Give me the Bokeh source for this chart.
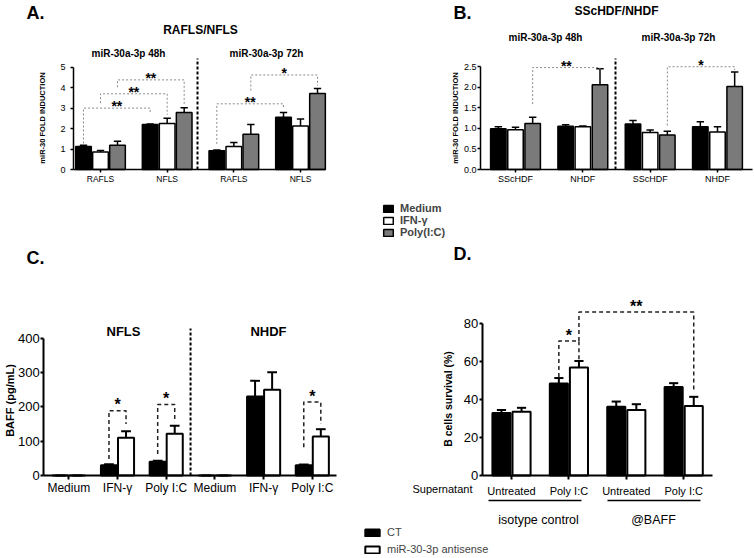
import math
from bokeh.plotting import figure
from bokeh.layouts import row, column
from bokeh.models import (Range1d, Label, FixedTicker, Legend, LegendItem,
                          PrintfTickFormatter)
from bokeh.core.properties import value
from bokeh.embed import file_html
from bokeh.resources import INLINE

FONT = "Liberation Sans"

# ---------------- data ----------------
# Panel A: RAFLS/NFLS, miR-30a-3p fold induction (48h, 72h)
a_groups = ["RAFLS", "NFLS", "RAFLS", "NFLS"]
a_medium = [1.13, 2.20, 0.92, 2.55]
a_medium_err = [1.18, 2.22, 0.95, 2.78]
a_ifn = [0.85, 2.25, 1.13, 2.12]
a_ifn_err = [0.93, 2.50, 1.32, 2.47]
a_poly = [1.18, 2.78, 1.72, 3.72]
a_poly_err = [1.38, 3.02, 2.20, 3.96]
# significance brackets: (group, series) ends, level, leg ends, text
a_br_left = [(1, 0), (1, 1), (1, 2), (3, 0), (3, 2)]
a_br_right = [(2, 0), (2, 1), (2, 2), (4, 0), (4, 2)]
a_br_level = [3.00, 3.70, 4.38, 3.21, 4.62]
a_br_left_end = [1.27, 3.24, 4.02, 1.25, 3.86]
a_br_right_end = [2.72, 2.67, 3.21, 3.04, 4.10]
a_br_text = ["**", "**", "**", "**", "*"]

# Panel B: SScHDF/NHDF
b_groups = ["SScHDF", "NHDF", "SScHDF", "NHDF"]
b_medium = [0.99, 1.05, 1.11, 1.04]
b_medium_err = [1.04, 1.09, 1.19, 1.16]
b_ifn = [0.97, 1.04, 0.90, 0.91]
b_ifn_err = [1.03, 1.06, 0.96, 1.04]
b_poly = [1.12, 2.06, 0.84, 2.02]
b_poly_err = [1.27, 2.45, 0.93, 2.37]
b_br_left = [(1, 2), (3, 2)]
b_br_right = [(2, 2), (4, 2)]
b_br_level = [2.48, 2.50]
b_br_left_end = [1.59, 1.07]
b_br_right_end = [2.42, 2.42]
b_br_text = ["**", "*"]

series_names = ["Medium", "IFN-\u03b3", "Poly(I:C)"]

# Panel C: BAFF (pg/mL)
c_cats = ["Medium", "IFN-\u03b3", "Poly I:C", "Medium", "IFN-\u03b3", "Poly I:C"]
c_ct = [0, 30, 40, 0, 230, 30]
c_ct_err = [0, 33, 43, 0, 276, 32]
c_anti = [0, 110, 122, 0, 250, 114]
c_anti_err = [0, 129, 145, 0, 301, 135]
c_cell_titles = ["NFLS", "NHDF"]
c_br_cat = [2, 3, 6]
c_br_level = [189, 207, 214]
c_br_left_end = [48, 63, 82]
c_br_right_end = [150, 165, 150]
c_br_text = ["*", "*", "*"]

# Panel D: B cells survival (%)
d_cats = ["Untreated", "Poly I:C", "Untreated", "Poly I:C"]
d_ct = [33.0, 48.5, 36.2, 46.7]
d_ct_err = [34.6, 51.4, 39.0, 48.7]
d_anti = [33.6, 57.0, 34.5, 36.7]
d_anti_err = [35.7, 60.4, 37.6, 41.5]
d_group_names = ["isotype control", "@BAFF"]
d_br_left = [(2, 0), (2, 1)]
d_br_right = [(2, 1), (4, 1)]
d_br_level = [70.9, 86.2]
d_br_left_end = [52.0, 71.0]
d_br_right_end = [60.5, 44.8]
d_br_text = ["*", "**"]

legend2_names = ["CT", "miR-30-3p antisense"]

BLACK = "#000000"
GRAY = "#7a7a7a"
WHITE = "#ffffff"


# ---------------- helpers ----------------
class Panel:
    """A figure whose frame fills the whole canvas; axes are fixed inside it.
    Page pixel x1_px is category 1, ux px per category, uy px per y unit,
    and y=0 sits at page pixel fb."""
    def __init__(self, fig_x, fig_y, fig_w, fig_h, fl, fr, fb, x1_px, ux, uy):
        self.x1_px, self.ux, self.uy, self.fb = x1_px, ux, uy, fb
        self.fl, self.fr = fl, fr
        p = figure(width=fig_w, height=fig_h,
                   x_range=Range1d(self.x(fig_x), self.x(fig_x + fig_w)),
                   y_range=Range1d(self.y(fig_y + fig_h), self.y(fig_y)),
                   min_border_left=0, min_border_right=0,
                   min_border_top=0, min_border_bottom=0,
                   output_backend="svg", toolbar_location=None, tools="")
        p.title.visible = False
        p.outline_line_color = None
        p.grid.visible = False
        p.background_fill_color = "white"
        p.border_fill_color = "white"
        p.xaxis.fixed_location = 0
        p.yaxis.fixed_location = self.x(fl)
        self.p = p

    def x(self, px):
        return 1 + (px - self.x1_px) / self.ux

    def y(self, py):
        return (self.fb - py) / self.uy

    def label(self, px, py, text, size, bold=False, align="left", baseline="middle",
              angle=0.0):
        self.p.add_layout(Label(x=self.x(px), y=self.y(py), text=text,
                                text_font=FONT, text_font_size=size,
                                text_font_style="bold" if bold else "normal",
                                text_align=align, text_baseline=baseline,
                                text_color="black", angle=angle))


def style_axes(pan, yticks, ybounds, yfmt, ytick_size, ytick_out, ystandoff,
               xlabels, xlab_size, xtick_out, xstandoff, lw):
    p = pan.p
    xa, ya = p.xaxis[0], p.yaxis[0]
    ya.ticker = FixedTicker(ticks=yticks)
    if yfmt:
        ya.formatter = PrintfTickFormatter(format=yfmt)
    ya.bounds = ybounds
    ya.major_label_text_font = FONT
    ya.major_label_text_font_size = ytick_size
    ya.major_tick_out = ytick_out
    ya.major_tick_in = 0
    ya.major_label_standoff = ystandoff
    xa.ticker = FixedTicker(ticks=list(range(1, len(xlabels) + 1)))
    xa.major_label_overrides = {i + 1: t for i, t in enumerate(xlabels)}
    xa.bounds = (pan.x(pan.fl), pan.x(pan.fr))
    xa.major_label_text_font = FONT
    xa.major_label_text_font_size = xlab_size
    xa.major_tick_out = xtick_out
    xa.major_tick_in = 0
    xa.major_label_standoff = xstandoff
    for ax in (xa, ya):
        ax.minor_tick_line_color = None
        ax.axis_line_width = lw
        ax.major_tick_line_width = lw
        ax.axis_line_color = "black"
        ax.major_tick_line_color = "black"
        ax.major_label_text_color = "black"


def bars(pan, offsets, series, colors, width, lw, cap):
    p = pan.p
    rends = []
    for off, (vals, errs), col in zip(offsets, series, colors):
        xs = [i + 1 + off for i in range(len(vals))]
        r = p.vbar(x=xs, top=vals, bottom=0, width=width, fill_color=col,
                   line_color="black", line_width=lw)
        rends.append(r)
        p.segment(x0=xs, y0=vals, x1=xs, y1=errs, line_color="black", line_width=lw)
        p.segment(x0=[x - cap for x in xs], y0=errs, x1=[x + cap for x in xs], y1=errs,
                  line_color="black", line_width=lw)
    return rends


def brackets(pan, offsets, lefts, rights, levels, lends, rends_, texts, color, dash,
             lw, star_size, star_dy):
    xs, ys, tx, ty = [], [], [], []
    for (gl, sl), (gr, sr), lev, le, re_ in zip(lefts, rights, levels, lends, rends_):
        x0 = gl + offsets[sl]
        x1 = gr + offsets[sr]
        xs.append([x0, x0, x1, x1])
        ys.append([le, lev, lev, re_])
        tx.append((x0 + x1) / 2)
        ty.append(lev)
    pan.p.multi_line(xs=xs, ys=ys, line_color=color, line_dash=dash, line_width=lw)
    pan.p.text(x=tx, y=ty, text=texts, text_font=value(FONT), text_font_size=star_size,
               text_font_style="bold", text_align="center", text_baseline="alphabetic",
               y_offset=star_dy, text_color="black")


VERT = math.pi / 2
TOP_H = 240

# ---------------- Panel A ----------------
A = Panel(0, 0, 380, TOP_H, 73, 325, 169, 100, 66.67, 20.46)
offs3 = [-0.255, 0.0, 0.255]
bars(A, offs3, [(a_medium, a_medium_err), (a_ifn, a_ifn_err), (a_poly, a_poly_err)],
     [BLACK, WHITE, GRAY], 0.235, 1.5, 0.055)
brackets(A, offs3, a_br_left, a_br_right, a_br_level,
         a_br_left_end, a_br_right_end, a_br_text, "#8a8a8a", "2 2", 1, "14px", -2)
A.p.segment(x0=[A.x(197)], y0=[0], x1=[A.x(197)], y1=[A.y(58)], line_color="black",
            line_width=2, line_dash="3 2")
style_axes(A, [0, 1, 2, 3, 4, 5], (0, 5), None, "9px", 3, 5, a_groups, "8.5px", 3, 1, 1.5)
A.label(42, 117.5, "miR-30 FOLD INDUCTION", "7.5px", bold=True, align="center", angle=VERT)
A.label(26, 12.5, "A.", "18px", bold=True)
A.label(200, 29, "RAFLS/NFLS", "12px", bold=True, align="center")
A.label(128, 53, "miR-30a-3p 48h", "10px", bold=True, align="center")
A.label(266, 53, "miR-30a-3p 72h", "10px", bold=True, align="center")

# ---------------- Panel B ----------------
B = Panel(380, 0, 374, TOP_H, 480, 752, 169, 515, 67.33, 41.1)
rB = bars(B, offs3, [(b_medium, b_medium_err), (b_ifn, b_ifn_err), (b_poly, b_poly_err)],
          [BLACK, WHITE, GRAY], 0.23, 1.5, 0.055)
brackets(B, offs3, b_br_left, b_br_right, b_br_level, b_br_left_end, b_br_right_end,
         b_br_text, "#8a8a8a", "2 2", 1, "14px", -2)
B.p.segment(x0=[B.x(615)], y0=[0], x1=[B.x(615)], y1=[B.y(58)], line_color="black",
            line_width=2, line_dash="3 2")
style_axes(B, [0, 0.5, 1.0, 1.5, 2.0, 2.5], (0, 2.5), "%.1f", "9px", 3, 1,
           b_groups, "9px", 3, 1, 1.5)
B.label(455, 117.5, "miR-30 FOLD INDUCTION", "7.5px", bold=True, align="center", angle=VERT)
B.label(453, 12, "B.", "18px", bold=True)
B.label(616, 10, "SScHDF/NHDF", "12px", bold=True, align="center")
B.label(545, 37, "miR-30a-3p 48h", "10px", bold=True, align="center")
B.label(678, 37, "miR-30a-3p 72h", "10px", bold=True, align="center")
legA = Legend(items=[LegendItem(label=n, renderers=[r]) for n, r in zip(series_names, rB)],
              location=(2, 2), orientation="vertical", padding=0, margin=0, spacing=0,
              glyph_width=12, glyph_height=9, label_height=12, label_standoff=6,
              label_text_font=FONT, label_text_font_size="11px",
              label_text_font_style="bold", border_line_alpha=0,
              background_fill_alpha=0)
B.p.add_layout(legA)

# ---------------- Panel C ----------------
C = Panel(0, TOP_H, 356, 558 - TOP_H, 43.3, 336, 475, 68.3, 48.7, 0.343)
offs2c = [-0.175, 0.175]
bars(C, offs2c, [(c_ct, c_ct_err), (c_anti, c_anti_err)], [BLACK, WHITE], 0.33, 2, 0.1)
brackets(C, offs2c, [(g, 0) for g in c_br_cat], [(g, 1) for g in c_br_cat], c_br_level,
         c_br_left_end, c_br_right_end, c_br_text, "#222222", "4 3", 1.5, "16px", -6)
C.p.segment(x0=[3.5], y0=[0], x1=[3.5], y1=[C.y(328)], line_color="black",
            line_width=2, line_dash="3 2")
style_axes(C, [0, 100, 200, 300, 400], (0, 400), None, "13px", 3, 1,
           c_cats, "12px", 4, 1, 2)
C.label(9, 400, "BAFF (pg/mL)", "11px", bold=True, align="center", angle=VERT)
C.label(26, 257, "C.", "18px", bold=True)
C.label(123, 331, c_cell_titles[0], "13px", bold=True, align="center")
C.label(268, 331, c_cell_titles[1], "13px", bold=True, align="center")

# ---------------- Panel D ----------------
D = Panel(356, TOP_H, 398, 558 - TOP_H, 481.7, 712, 475, 511, 57.4, 1.896)
offs2d = [-0.175, 0.175]
rD = bars(D, offs2d, [(d_ct, d_ct_err), (d_anti, d_anti_err)], [BLACK, WHITE], 0.315, 2, 0.08)
brackets(D, offs2d, d_br_left, d_br_right, d_br_level, d_br_left_end, d_br_right_end,
         d_br_text, "#222222", "4 3", 1.5, "16px", -6)
style_axes(D, [0, 20, 40, 60, 80], (0, 80), None, "13px", 3, 1, d_cats, "11px", 4, 5, 2)
D.label(447, 398.5, "B cells survival (%)", "10.5px", bold=True, align="center", angle=VERT)
D.label(453, 253, "D.", "18px", bold=True)
D.label(412, 488, "Supernatant", "11px")
D.label(538, 519, d_group_names[0], "12.5px", align="center")
D.label(653, 519, d_group_names[1], "12.5px", align="center")
D.p.segment(x0=[D.x(488), D.x(607)], y0=[D.y(500), D.y(500)],
            x1=[D.x(581), D.x(700)], y1=[D.y(500), D.y(500)],
            line_width=1.5, line_color="black")
legD = Legend(items=[LegendItem(label=n, renderers=[r]) for n, r in zip(legend2_names, rD)],
              location=(7, 3), orientation="vertical", padding=0, margin=0, spacing=5,
              glyph_width=18, glyph_height=9, label_height=12, label_standoff=6,
              label_text_font=FONT, label_text_font_size="11px",
              border_line_alpha=0, background_fill_alpha=0)
D.p.add_layout(legD)

layout = column(row(A.p, B.p, spacing=0), row(C.p, D.p, spacing=0), spacing=0)

with open("out.html", "w") as f:
    f.write(file_html(layout, INLINE))
